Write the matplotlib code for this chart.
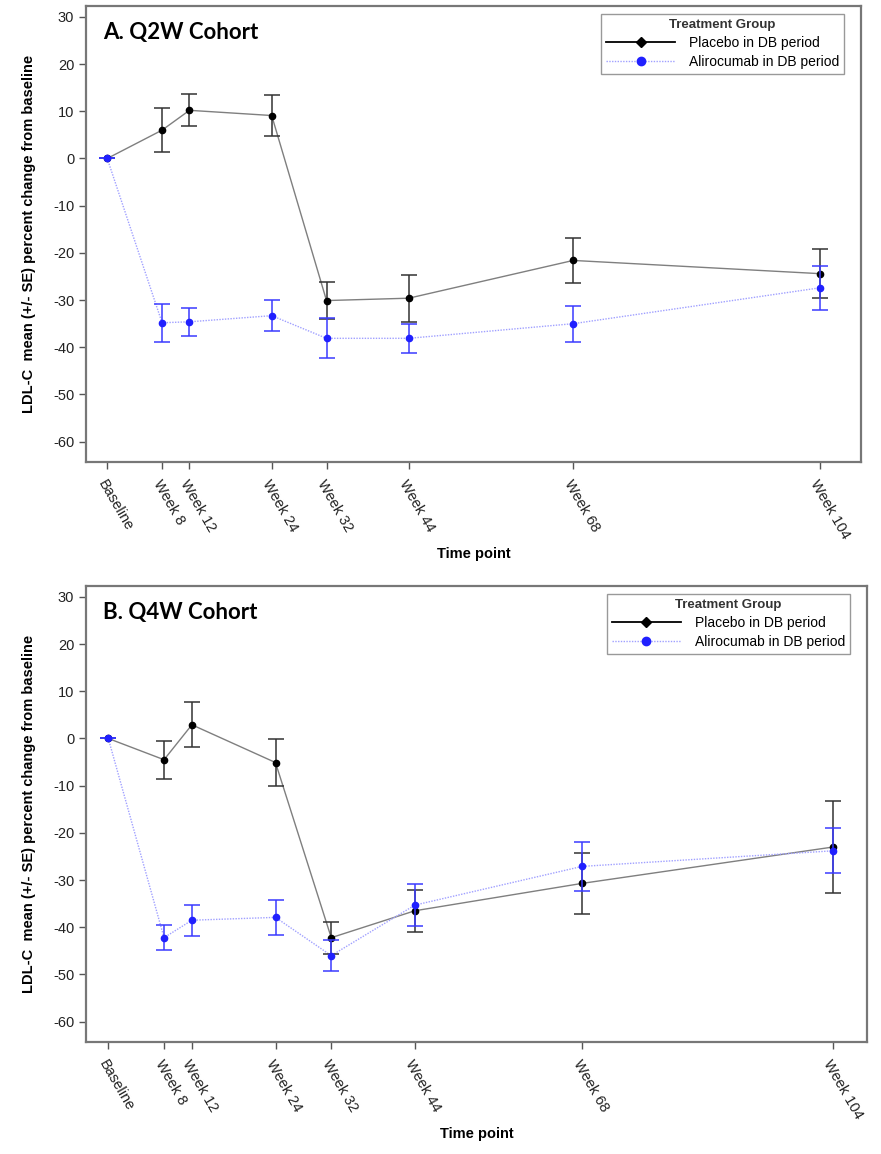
import numpy as np
import matplotlib
matplotlib.use("Agg")
import matplotlib.pyplot as plt
from matplotlib.lines import Line2D

plt.rcParams['font.family'] = ['Liberation Sans', 'DejaVu Sans']
plt.rcParams['axes.unicode_minus'] = False

# time points (weeks from baseline) and their labels
weeks = [0, 8, 12, 24, 32, 44, 68, 104]
week_labels = ['Baseline', 'Week 8', 'Week 12', 'Week 24', 'Week 32', 'Week 44', 'Week 68', 'Week 104']

# A. Q2W cohort
q2w_placebo = [0, 6.0, 10.2, 9.1, -30.1, -29.6, -21.6, -24.4]
q2w_placebo_se = [0, 4.6, 3.4, 4.3, 3.9, 5.0, 4.8, 5.2]
q2w_aliro = [0, -34.8, -34.6, -33.3, -38.1, -38.1, -35.0, -27.4]
q2w_aliro_se = [0, 4.0, 3.0, 3.3, 4.2, 3.1, 3.8, 4.7]

# B. Q4W cohort
q4w_placebo = [0, -4.5, 2.9, -5.1, -42.2, -36.5, -30.7, -23.0]
q4w_placebo_se = [0, 4.0, 4.8, 4.9, 3.4, 4.5, 6.5, 9.7]
q4w_aliro = [0, -42.2, -38.5, -37.9, -46.0, -35.3, -27.1, -23.8]
q4w_aliro_se = [0, 2.7, 3.3, 3.7, 3.3, 4.5, 5.2, 4.8]

panels = [
    ('A. Q2W Cohort', q2w_placebo, q2w_placebo_se, q2w_aliro, q2w_aliro_se),
    ('B. Q4W Cohort', q4w_placebo, q4w_placebo_se, q4w_aliro, q4w_aliro_se),
]

fig = plt.figure(figsize=(8.81, 11.54), dpi=100)
W, H = 881, 1154
# left, top, right, bottom in pixels
boxes = [(86, 6, 861, 462), (86, 586, 867, 1042)]
xlims = [(-3.1, 110.0), (-3.2, 108.9)]

blue = '#2020ff'
for (title, pl, pl_se, al, al_se), (l, t, r, b), xl in zip(panels, boxes, xlims):
    ax = fig.add_axes([l / W, 1 - b / H, (r - l) / W, (b - t) / H])
    ax.plot(weeks, pl, color='#7f7f7f', lw=1.0, zorder=2)
    ax.plot(weeks, al, color='#a0a0ff', lw=1.0, ls=(0, (1, 1)), zorder=2)
    ax.errorbar(weeks, pl, yerr=pl_se, fmt='o', color='black', ms=4.5,
                ecolor='#333333', elinewidth=1.1, capsize=6, capthick=1.1, zorder=3)
    ax.errorbar(weeks, al, yerr=al_se, fmt='o', color=blue, ms=4.5,
                ecolor='#3a3aff', elinewidth=1.1, capsize=6, capthick=1.1, zorder=4)

    ax.set_xlim(*xl)
    ax.set_ylim(-64.3, 32.3)
    ax.set_yticks(np.arange(-60, 31, 10))
    ax.set_xticks(weeks)
    ax.set_xticklabels(week_labels, rotation=-60, ha='left', va='top',
                       rotation_mode='anchor', fontsize=10)
    ax.tick_params(axis='both', colors='#555555', labelcolor='#222222',
                   length=5, width=1.0, labelsize=10.5)
    ax.tick_params(axis='x', pad=6)
    for s in ax.spines.values():
        s.set_color('#777777')
        s.set_linewidth(1.6)

    ax.set_ylabel('LDL-C  mean (+/- SE) percent change from baseline',
                  fontsize=10.5, fontweight='bold', labelpad=12)
    ax.set_xlabel('Time point', fontsize=10.5, fontweight='bold', labelpad=4)
    ax.text(0.022, 0.965, title, transform=ax.transAxes, fontsize=16,
            fontweight='bold', family=['Lato', 'DejaVu Sans'], ha='left', va='top')

    handles = [
        Line2D([], [], color='black', lw=1.3, marker='D', ms=5.5),
        Line2D([], [], color='#a0a0ff', lw=1.0, ls=(0, (1, 1)), marker='o',
               ms=6, mfc=blue, mec=blue),
    ]
    leg = ax.legend(handles, ['Placebo in DB period', 'Alirocumab in DB period'],
                    title='Treatment Group', loc='upper right',
                    bbox_to_anchor=(0.982, 0.988), fontsize=10, title_fontsize=9.5,
                    fancybox=False, framealpha=1, edgecolor='#999999',
                    handlelength=5.0, borderpad=0.35, labelspacing=0.35,
                    handletextpad=1.0, borderaxespad=0.2)
    leg.get_title().set_fontweight('bold')
    leg.get_title().set_color('#333333')
    leg.get_frame().set_linewidth(1.0)

fig.savefig('out.png', dpi=100)
